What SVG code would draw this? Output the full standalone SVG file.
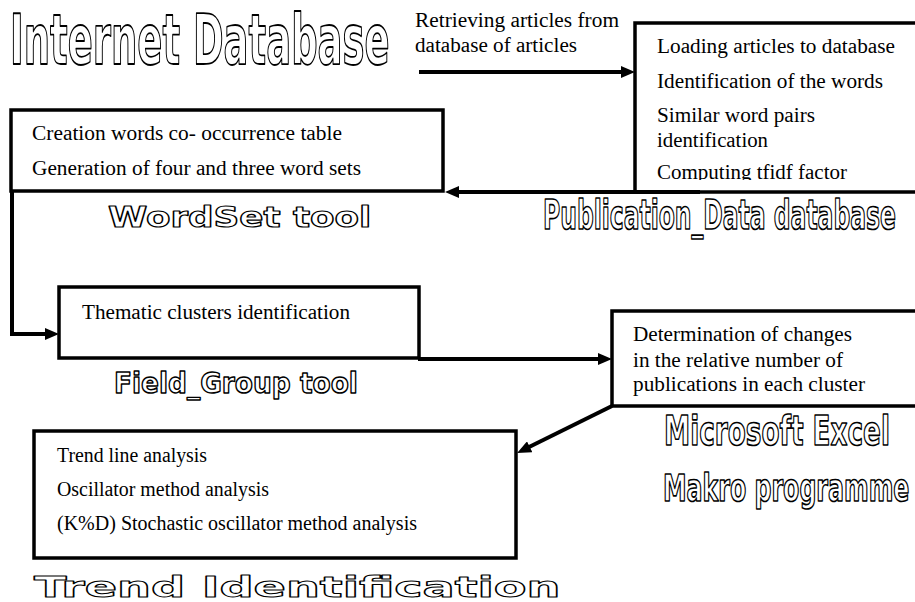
<svg xmlns="http://www.w3.org/2000/svg" width="915" height="602" viewBox="0 0 915 602">
<style>
.box{fill:none;stroke:#000;stroke-width:3.5}
.con{fill:none;stroke:#000;stroke-width:4}
.t{font-family:"Liberation Serif","Times New Roman",serif;font-size:20px;fill:#000}
.ttl{font-family:"DejaVu Sans","Liberation Sans",sans-serif;font-weight:bold;fill:#fff;stroke:#000;stroke-width:1.4;stroke-linejoin:round;vector-effect:non-scaling-stroke}
</style>
<defs>
<marker id="ah" viewBox="0 0 14 12" refX="8" refY="6" markerWidth="14" markerHeight="12" markerUnits="userSpaceOnUse" orient="auto">
<path d="M0,0 L14,6 L0,12 z" fill="#000"/>
</marker>
<clipPath id="clipPub"><rect x="630" y="20" width="290" height="160"/></clipPath>
</defs>
<rect width="915" height="602" fill="#fff"/>

<g id="title-internet">
<text class="ttl" transform="translate(10,64) scale(0.528,1)" font-size="70" textLength="719" lengthAdjust="spacingAndGlyphs">Internet Database</text>
</g>

<g id="node-publication">
<rect class="box" x="635" y="23" width="290" height="169"/>
<g clip-path="url(#clipPub)">
<text class="t" x="657" y="53" textLength="238" lengthAdjust="spacingAndGlyphs">Loading articles to database</text>
<text class="t" x="657" y="88" textLength="226" lengthAdjust="spacingAndGlyphs">Identification of the words</text>
<text class="t" x="657" y="122" textLength="158" lengthAdjust="spacingAndGlyphs">Similar word pairs</text>
<text class="t" x="657" y="147" textLength="111" lengthAdjust="spacingAndGlyphs">identification</text>
<text class="t" x="657" y="179" textLength="190" lengthAdjust="spacingAndGlyphs">Computing tfidf factor</text>
</g>
<text class="ttl" transform="translate(543,229) scale(0.572,1)" font-size="41" textLength="617" lengthAdjust="spacingAndGlyphs">Publication_Data database</text>
</g>

<g id="node-wordset">
<rect class="box" x="11" y="110" width="432" height="81"/>
<text class="t" x="32" y="140" textLength="310" lengthAdjust="spacingAndGlyphs">Creation words co- occurrence table</text>
<text class="t" x="32" y="175" textLength="329" lengthAdjust="spacingAndGlyphs">Generation of four and three word sets</text>
<text class="ttl" transform="translate(108,227) scale(1.265,1)" font-size="28" textLength="208" lengthAdjust="spacingAndGlyphs">WordSet tool</text>
</g>

<g id="node-fieldgroup">
<rect class="box" x="59" y="287" width="360" height="71"/>
<text class="t" x="82" y="319" textLength="268" lengthAdjust="spacingAndGlyphs">Thematic clusters identification</text>
<text class="ttl" transform="translate(114,393) scale(0.91,1)" font-size="29" textLength="268" lengthAdjust="spacingAndGlyphs">Field_Group tool</text>
</g>

<g id="node-excel">
<rect class="box" x="612" y="311" width="313" height="95"/>
<text class="t" x="633" y="341" textLength="219" lengthAdjust="spacingAndGlyphs">Determination of changes</text>
<text class="t" x="633" y="367" textLength="210" lengthAdjust="spacingAndGlyphs">in the relative number of</text>
<text class="t" x="633" y="391" textLength="232" lengthAdjust="spacingAndGlyphs">publications in each cluster</text>
<text class="ttl" transform="translate(664,445) scale(0.64,1)" font-size="41" textLength="353" lengthAdjust="spacingAndGlyphs">Microsoft Excel</text>
<text class="ttl" transform="translate(663,501) scale(0.64,1)" font-size="37" textLength="385" lengthAdjust="spacingAndGlyphs">Makro programme</text>
</g>

<g id="node-trend">
<rect class="box" x="34" y="431" width="482" height="127"/>
<text class="t" x="57" y="462" textLength="150" lengthAdjust="spacingAndGlyphs">Trend line analysis</text>
<text class="t" x="57" y="496" textLength="212" lengthAdjust="spacingAndGlyphs">Oscillator method analysis</text>
<text class="t" x="57" y="530" textLength="360" lengthAdjust="spacingAndGlyphs">(K%D) Stochastic oscillator method analysis</text>
<text class="ttl" transform="translate(34,597) scale(1.62,1)" font-size="29" textLength="325" lengthAdjust="spacingAndGlyphs">Trend Identification</text>
</g>

<g id="connectors">
<path class="con" d="M419,72 H629" marker-end="url(#ah)"/>
<text class="t" x="415" y="27" textLength="204" lengthAdjust="spacingAndGlyphs">Retrieving articles from</text>
<text class="t" x="415" y="52" textLength="162" lengthAdjust="spacingAndGlyphs">database of articles</text>
<path class="con" d="M700,192 H451" marker-end="url(#ah)"/>
<path class="con" d="M12,190 V334 H53" marker-end="url(#ah)"/>
<path class="con" d="M418,359 H606" marker-end="url(#ah)"/>
<path class="con" d="M612,406 L522.5,450.3" marker-end="url(#ah)"/>
</g>
</svg>
